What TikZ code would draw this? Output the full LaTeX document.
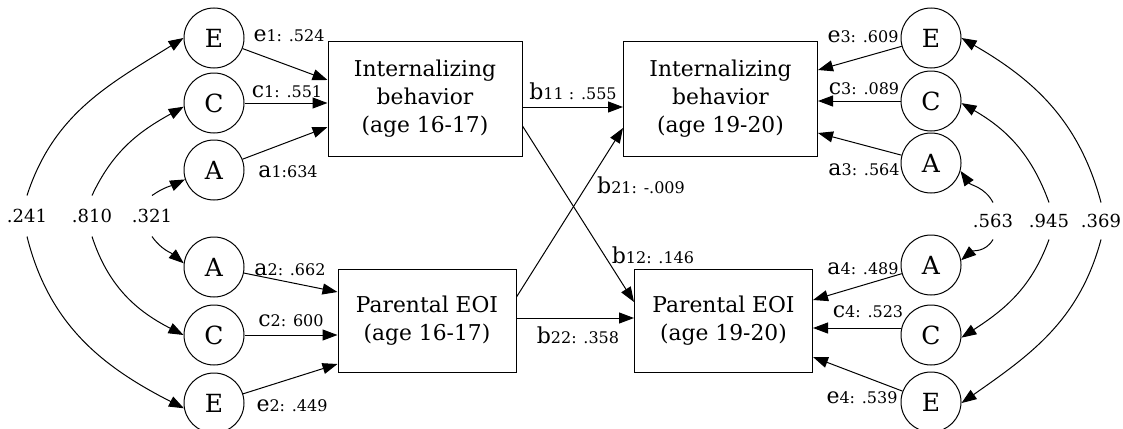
\documentclass[tikz,border=0pt]{standalone}
\usepackage{fontspec}
\setmainfont{DejaVu Serif}
\usepackage{tikz}
\usetikzlibrary{arrows.meta}

\newcommand{\pl}[2]{#1{\fontsize{8}{9}\selectfont #2}}

\begin{document}
\begin{tikzpicture}[->,>={Triangle[length=7.5pt,width=5.5pt]},x=0.5pt,y=0.5pt,
                    line width=0.5pt]
  \tikzstyle{latent}=[circle,draw,minimum size=30pt,inner sep=0pt,font=\fontsize{12.5}{14}\selectfont]
  \tikzstyle{measure}=[draw,align=center,font=\fontsize{10.9}{14}\selectfont]
  \tikzstyle{wave1}=[measure,minimum width=97pt,minimum height=57.5pt]
  \tikzstyle{wave2}=[measure,minimum width=89pt,minimum height=51.5pt]
  \tikzstyle{coef}=[font=\fontsize{11}{12}\selectfont,inner sep=1pt]
  \tikzstyle{corr}=[font=\fontsize{9}{10}\selectfont,inner sep=0pt]

  \path[use as bounding box,fill=white] (0,0) rectangle (1123,-428);

  \node[wave1] (IB1) at (425,-98.5)   {Internalizing\\behavior\\(age 16-17)};
  \node[wave1] (IB2) at (720.5,-98.5) {Internalizing\\behavior\\(age 19-20)};
  \node[wave2] (PE1) at (427,-320.5)  {Parental EOI\\(age 16-17)};
  \node[wave2] (PE2) at (723.5,-320.5){Parental EOI\\(age 19-20)};

  \node[latent] (E1) at (214,-38)  {E};
  \node[latent] (C1) at (214,-103) {C};
  \node[latent] (A1) at (214,-170) {A};
  \node[latent] (A2) at (214,-267) {A};
  \node[latent] (C2) at (214,-335) {C};
  \node[latent] (E2) at (214,-403) {E};

  \node[latent] (E3) at (931,-38)  {E};
  \node[latent] (C3) at (931,-101) {C};
  \node[latent] (A3) at (931,-163) {A};
  \node[latent] (A4) at (931,-265) {A};
  \node[latent] (C4) at (931,-335) {C};
  \node[latent] (E4) at (931,-402) {E};

  \node[corr,minimum height=20pt] (r241) at (27,-216)   {.241};
  \node[corr,minimum height=20pt] (r810) at (92,-216)   {.810};
  \node[corr,minimum height=20pt] (r321) at (152,-216)  {.321};
  \node[corr,minimum height=18pt] (r563) at (993,-221)  {.563};
  \node[corr,minimum height=18pt] (r945) at (1049,-221) {.945};
  \node[corr,minimum height=18pt] (r369) at (1101,-221) {.369};

  % ACE paths
  \draw (E1) -- ([yshift=9.25pt]IB1.west);
  \draw (C1) -- (C1 -| IB1.west);
  \draw (A1) -- ([yshift=-14.25pt]IB1.west);
  \draw (A2) -- ([yshift=14.25pt]PE1.west);
  \draw (C2) -- (C2 -| PE1.west);
  \draw (E2) -- ([yshift=-21.75pt]PE1.west);
  \draw (E3) -- ([yshift=14.25pt]IB2.east);
  \draw (C3) -- (C3 -| IB2.east);
  \draw (A3) -- ([yshift=-17.25pt]IB2.east);
  \draw (A4) -- ([yshift=10.25pt]PE2.east);
  \draw ([yshift=3.5pt]C4.west) -- ([yshift=3.5pt]C4.west -| PE2.east);
  \draw (E4) -- ([yshift=-18.25pt]PE2.east);

  % cross-lagged paths
  \draw ([yshift=-4.25pt]IB1.east) -- ([yshift=-4.25pt]IB1.east -| IB2.west);
  \draw ([yshift=-13.75pt]IB1.east) -- ([yshift=9.25pt]PE2.west);
  \draw ([yshift=11.75pt]PE1.east) -- ([yshift=-14.75pt]IB2.west);
  \draw ([yshift=1.25pt]PE1.east) -- ([yshift=1.25pt]PE1.east -| PE2.west);

  % correlations
  \draw (r241.north) to[out=72,in=212]  (E1.west);
  \draw (r241.south) to[out=284,in=153] (E2.190);
  \draw (r810.north) to[out=65,in=209]  (C1.187);
  \draw (r810.south) to[out=288,in=153] (C2.west);
  \draw (r321.north) to[out=35,in=205]  (A1.198);
  \draw (r321.south) to[out=305,in=140] (A2.173);
  \draw (r563.north) to[out=118,in=305] (A3.345);
  \draw (r563.south) to[out=240,in=40]  (A4.9);
  \draw (r945.north) to[out=110,in=330] (C3.356);
  \draw (r945.south) to[out=250,in=33]  (C4.355);
  \draw (r369.north) to[out=105,in=330] (E3.east);
  \draw (r369.south) to[out=255,in=35]  (E4.358);

  \node[coef] (e1)  at (289,-36)  {\pl{e}{1: .524}};
  \node[coef] (c1)  at (287,-92)  {\pl{c}{1: .551}};
  \node[coef] (a1)  at (288,-172) {\pl{a}{1:634}};
  \node[coef] (a2)  at (290,-270) {\pl{a}{2: .662}};
  \node[coef] (c2)  at (291,-321) {\pl{c}{2: 600}};
  \node[coef] (e2)  at (292,-406) {\pl{e}{2: .449}};
  \node[coef] (b11) at (573,-91)  {\pl{b}{11 : .555}};
  \node[coef] (b21) at (641,-185) {\pl{b}{21: -.009}};
  \node[coef] (b12) at (653,-255) {\pl{b}{12: .146}};
  \node[coef] (b22) at (578,-335) {\pl{b}{22: .358}};
  \node[coef] (e3)  at (863,-37)  {\pl{e}{3: .609}};
  \node[coef] (c3)  at (864,-89)  {\pl{c}{3: .089}};
  \node[coef] (a3)  at (864,-170) {\pl{a}{3: .564}};
  \node[coef] (a4)  at (863,-269) {\pl{a}{4: .489}};
  \node[coef] (c4)  at (868,-312) {\pl{c}{4: .523}};
  \node[coef] (e4)  at (862,-398) {\pl{e}{4: .539}};
\end{tikzpicture}
\end{document}
